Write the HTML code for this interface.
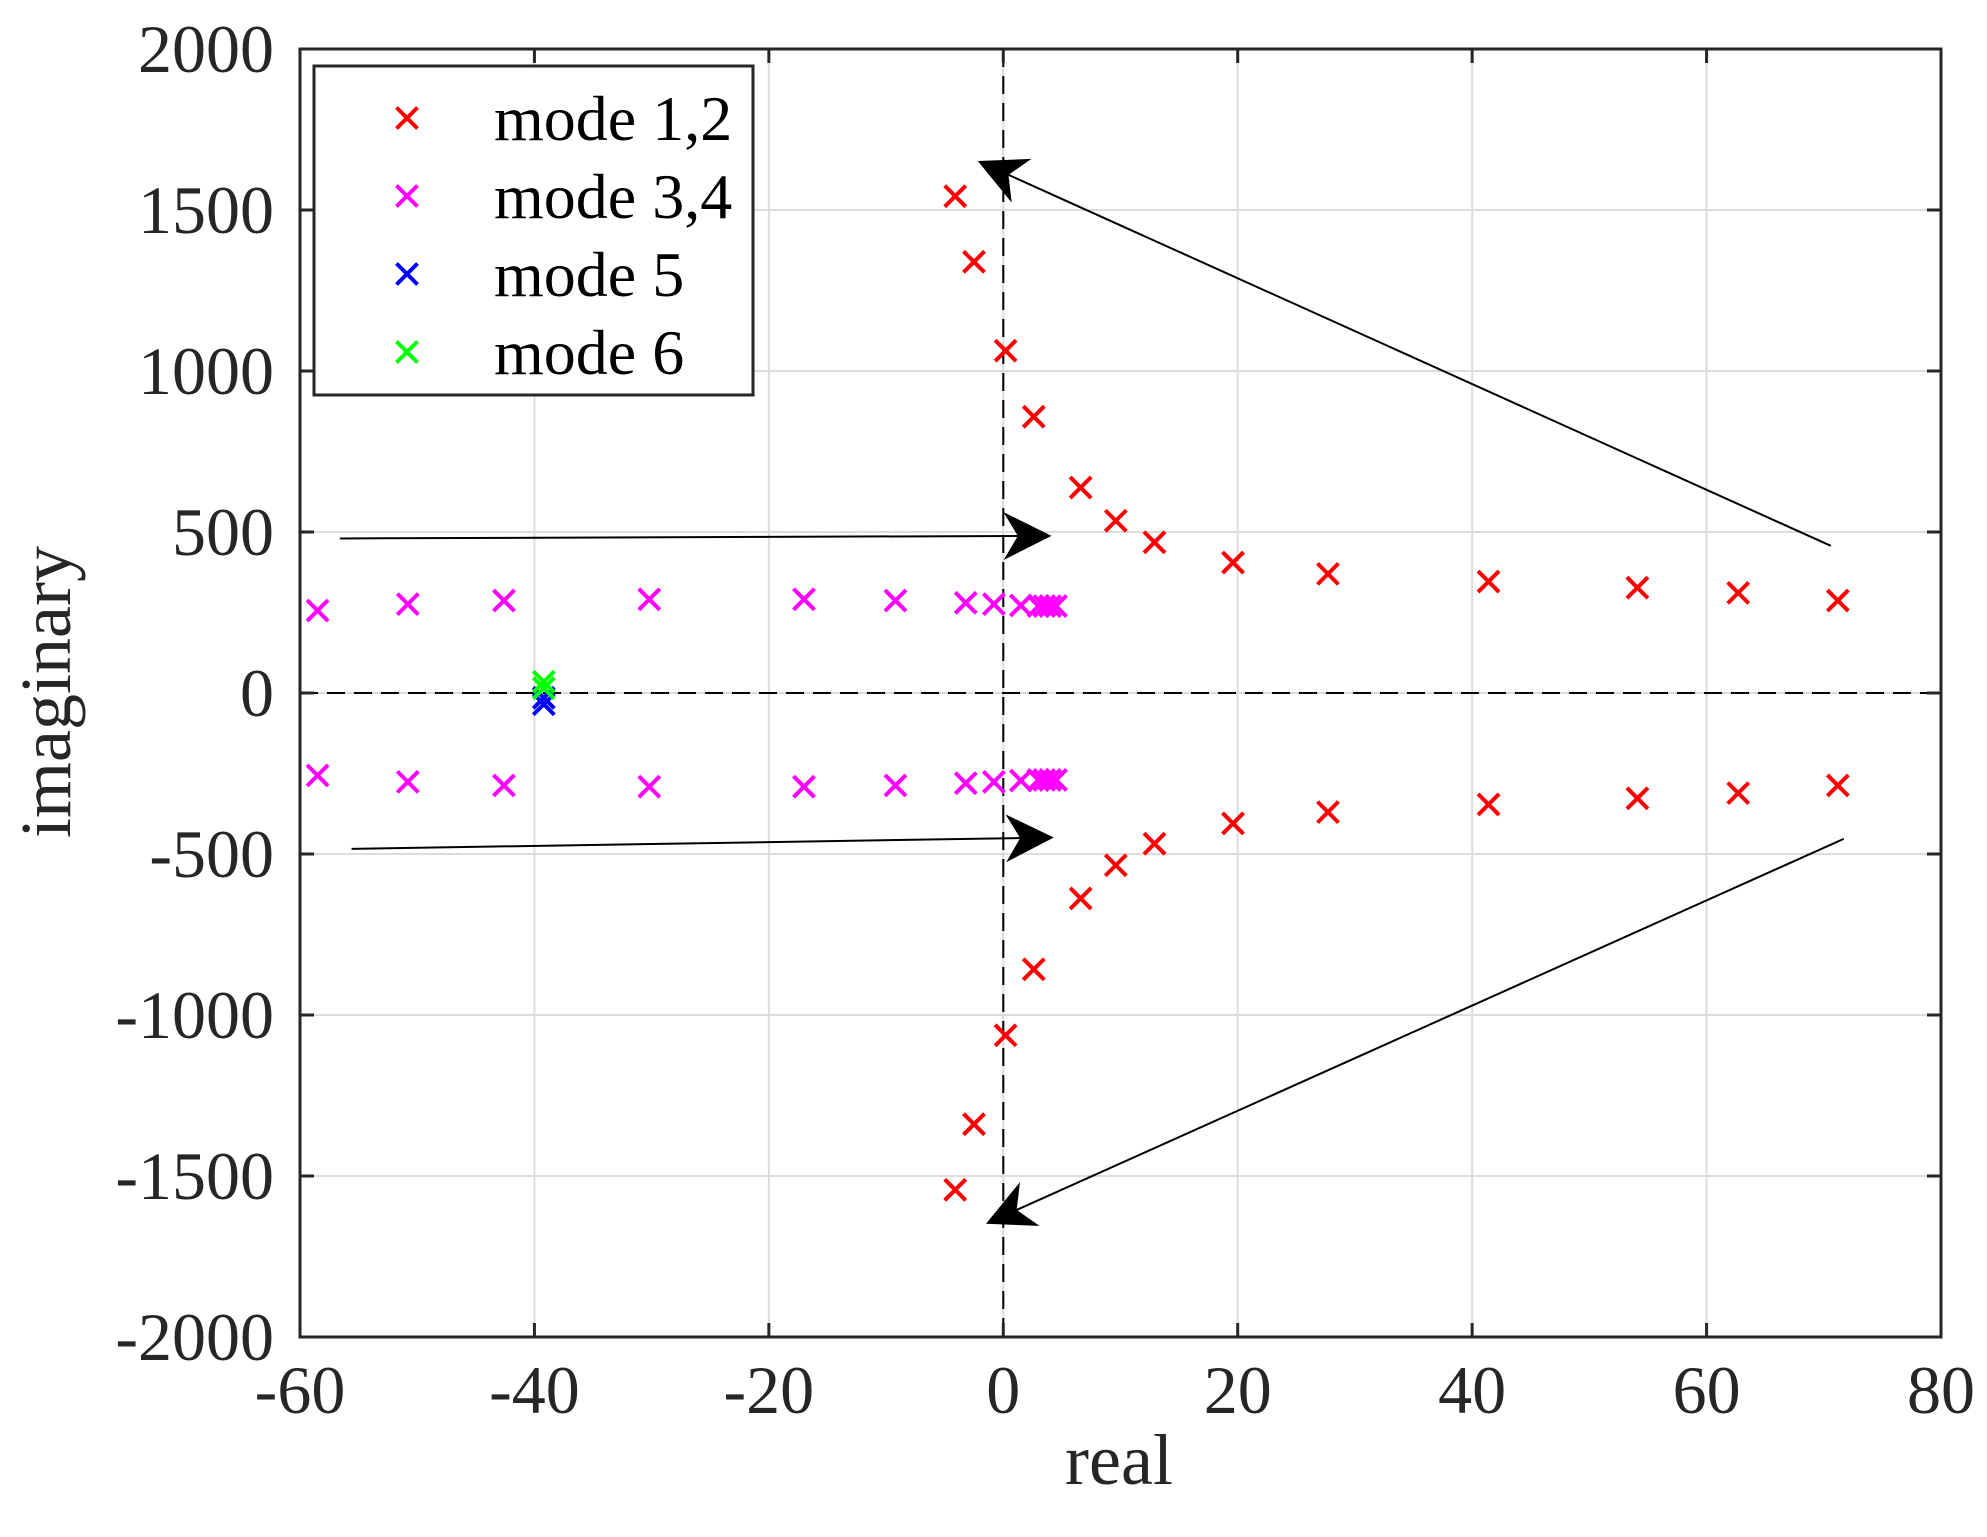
<!DOCTYPE html>
<html><head><meta charset="utf-8"><style>
body{margin:0;background:#fff}
svg{display:block;font-family:"Liberation Serif",serif}
</style></head><body>
<svg id="c" width="1987" height="1537" viewBox="0 0 1987 1537">
<defs><marker id="ah" viewBox="0 0 20 20" refX="18" refY="10" markerWidth="48" markerHeight="48" markerUnits="userSpaceOnUse" orient="auto"><path d="M0,0 L20,10 L0,20 L6,10 Z" fill="#000"/></marker></defs>
<g id="grid"></g>
<g id="zero"></g>
<g id="marks"></g>
<g id="arrows"></g>
<g id="axes"></g>
<g>
<rect x="314" y="66" width="439" height="329" fill="#fff" stroke="#262626" stroke-width="3"/>
<g id="leg"></g>
</g>
<text x="1119" y="1484" font-size="72" text-anchor="middle" fill="#262626">real</text>
<text transform="translate(70,692) rotate(-90)" font-size="72" text-anchor="middle" fill="#262626">imaginary</text>
</svg>
<script>
const xTicks=[-60,-40,-20,0,20,40,60,80];
const yTicks=[-2000,-1500,-1000,-500,0,500,1000,1500,2000];
const m12x=[-4.1,-2.5,0.2,2.6,6.6,9.6,12.9,19.6,27.7,41.4,54.1,62.7,71.2];
const m12y=[1543,1339,1063,858,638,535,468,405,370,346,327,311,287];
const m34x=[-58.5,-50.8,-42.6,-30.2,-17,-9.2,-3.2,-0.8,1.5,3.0,3.5,4.0,4.5];
const m34y=[256,276,287,291,291,287,280,276,272,270,270,270,270];
const m5x=[-39.2,-39.2];
const m5y=[-35,-15];
const m6x=[-39.2,-39.2];
const m6y=[35,15];
const arrowFrom=[[70.6,457],[-56.6,480],[-55.6,-484],[71.7,-453]];
const arrowTo=[[-1.8,1646],[3.7,488],[3.9,-449],[-1.1,-1642]];
const L=300,R=1941,T=49,B=1337;
const sx=v=>L+(v+60)/140*(R-L);
const sy=v=>B-(v+2000)/4000*(B-T);
const NS="http://www.w3.org/2000/svg";
function mk(tag,attrs,parent){const e=document.createElementNS(NS,tag);for(const k in attrs)e.setAttribute(k,attrs[k]);parent.appendChild(e);return e;}
const grid=document.getElementById('grid'),axes=document.getElementById('axes'),zero=document.getElementById('zero'),marks=document.getElementById('marks'),arrows=document.getElementById('arrows'),leg=document.getElementById('leg');
xTicks.forEach(t=>{const x=sx(t);
 const g=mk('line',{x1:x,x2:x,y1:T,y2:B,stroke:'#dcdcdc','stroke-width':2},grid);
 
 mk('line',{x1:x,x2:x,y1:B,y2:B-14,stroke:'#262626','stroke-width':3},axes);
 mk('line',{x1:x,x2:x,y1:T,y2:T+14,stroke:'#262626','stroke-width':3},axes);
 const tx=mk('text',{x:x,y:B+76,'font-size':68,'text-anchor':'middle',fill:'#262626'},axes);tx.textContent=t;
 });
yTicks.forEach(t=>{const y=sy(t);
 const g=mk('line',{x1:L,x2:R,y1:y,y2:y,stroke:'#dcdcdc','stroke-width':2},grid);
 
 mk('line',{x1:L,x2:L+14,y1:y,y2:y,stroke:'#262626','stroke-width':3},axes);
 mk('line',{x1:R,x2:R-14,y1:y,y2:y,stroke:'#262626','stroke-width':3},axes);
 const tx=mk('text',{x:274,y:y+23,'font-size':68,'text-anchor':'end',fill:'#262626'},axes);tx.textContent=t;
 });
mk('rect',{x:L,y:T,width:R-L,height:B-T,fill:'none',stroke:'#262626','stroke-width':3},axes);
mk('line',{x1:sx(0),x2:sx(0),y1:T,y2:B,stroke:'#000','stroke-width':2,'stroke-dasharray':'18,9'},zero);
mk('line',{x1:L,x2:R,y1:sy(0),y2:sy(0),stroke:'#000','stroke-width':2,'stroke-dasharray':'18,9'},zero);
function cross(x,y,col,p){const s=10.5;
 mk('path',{d:`M${x-s},${y-s}L${x+s},${y+s}M${x-s},${y+s}L${x+s},${y-s}`,stroke:col,'stroke-width':4,fill:'none'},p);}
function series(xs,ys,col,name,mirror){const g=mk('g',{},marks);
 
 xs.forEach((v,i)=>{cross(sx(v),sy(ys[i]),col,g);if(mirror)cross(sx(v),sy(-ys[i]),col,g);});}
series(m34x,m34y,'#ff00ff','series-mode-3-4',true);
series(m12x,m12y,'#ff0000','series-mode-1-2',true);
series(m5x,m5y,'#0000ff','series-mode-5',false);
series(m6x,m6y,'#00ff00','series-mode-6',false);
arrowFrom.forEach((f,i)=>{const a=mk('line',{x1:sx(f[0]),y1:sy(f[1]),x2:sx(arrowTo[i][0]),y2:sy(arrowTo[i][1]),stroke:'#000','stroke-width':2,'marker-end':'url(#ah)'},arrows);
 });
const legLabels=['mode 1,2','mode 3,4','mode 5','mode 6'];
const legCols=['#ff0000','#ff00ff','#0000ff','#00ff00'];
legLabels.forEach((l,i)=>{const y=118+i*78;const g=mk('g',{},leg);
 
 cross(407,y,legCols[i],g);
 const t=mk('text',{x:494,y:y+22,'font-size':64,fill:'#000'},g);t.textContent=l;});
</script>
</body></html>
